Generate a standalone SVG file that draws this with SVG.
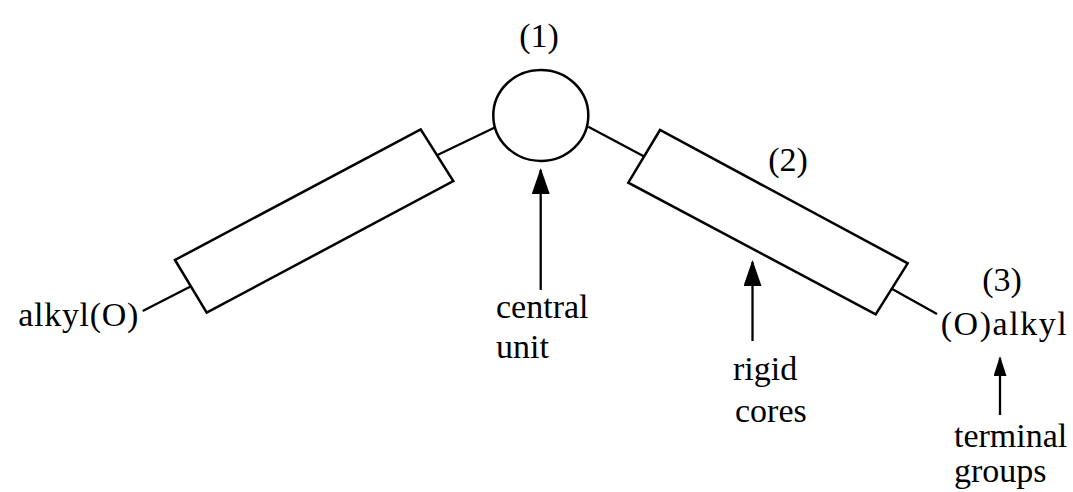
<svg xmlns="http://www.w3.org/2000/svg" width="1073" height="492" viewBox="0 0 1073 492">
  <style>
    .shape { fill: #ffffff; stroke: #000000; stroke-width: 2.5; stroke-linejoin: miter; }
    .bond { fill: none; stroke: #000000; stroke-width: 2.3; }
    .arrow { fill: none; stroke: #000000; stroke-width: 2.3; }
    .lbl { font-family: "Liberation Serif", "Times New Roman", serif; font-size: 34px; fill: #000000; }
    .mid { text-anchor: middle; }
  </style>
  <defs>
    <marker id="head" markerUnits="userSpaceOnUse" markerWidth="26" markerHeight="18" viewBox="0 0 26 18" refX="24" refY="9" orient="auto">
      <path d="M0,0 L26,9 L0,18 Z" fill="#000000"/>
    </marker>
    <marker id="headSmall" markerUnits="userSpaceOnUse" markerWidth="20" markerHeight="13" viewBox="0 0 20 13" refX="18" refY="6.5" orient="auto">
      <path d="M0,0 L20,6.5 L0,13 Z" fill="#000000"/>
    </marker>
  </defs>

  <g id="connectors">
    <line class="bond" x1="142.7" y1="311" x2="191" y2="286.3"/>
    <line class="bond" x1="437.5" y1="155" x2="495.8" y2="127"/>
    <line class="bond" x1="588.3" y1="126.7" x2="644.2" y2="156.4"/>
    <line class="bond" x1="891.7" y1="288.8" x2="937" y2="314"/>
    <line class="arrow" x1="540.7" y1="290" x2="540.7" y2="170" marker-end="url(#head)"/>
    <line class="arrow" x1="752.5" y1="341" x2="752.5" y2="262" marker-end="url(#head)"/>
    <line class="arrow" x1="1000" y1="415" x2="1000" y2="358" marker-end="url(#headSmall)"/>
  </g>

  <g id="central-unit">
    <ellipse class="shape" cx="540.8" cy="115.4" rx="47.5" ry="45.5"/>
    <text class="lbl mid" x="539" y="47">(1)</text>
  </g>

  <g id="left-core">
    <polygon class="shape" points="175,260 206.7,312.7 453.3,181 420.7,129.3"/>
  </g>

  <g id="right-core">
    <polygon class="shape" points="660,130 628.3,182.7 875.7,314.3 907.7,263.3"/>
    <text class="lbl mid" x="788" y="170.5">(2)</text>
  </g>

  <g id="left-terminal">
    <text class="lbl" x="18.3" y="326" textLength="120" lengthAdjust="spacing">alkyl(O)</text>
  </g>

  <g id="right-terminal">
    <text class="lbl mid" x="1002" y="291">(3)</text>
    <text class="lbl" x="940.7" y="335" textLength="126" lengthAdjust="spacing">(O)alkyl</text>
  </g>

  <g id="label-central-unit">
    <text class="lbl" x="496" y="318">central</text>
    <text class="lbl" x="496" y="358">unit</text>
  </g>

  <g id="label-rigid-cores">
    <text class="lbl" x="733" y="380">rigid</text>
    <text class="lbl" x="735" y="421.7">cores</text>
  </g>

  <g id="label-terminal-groups">
    <text class="lbl" x="954" y="446.7">terminal</text>
    <text class="lbl" x="954" y="481.7">groups</text>
  </g>
</svg>
